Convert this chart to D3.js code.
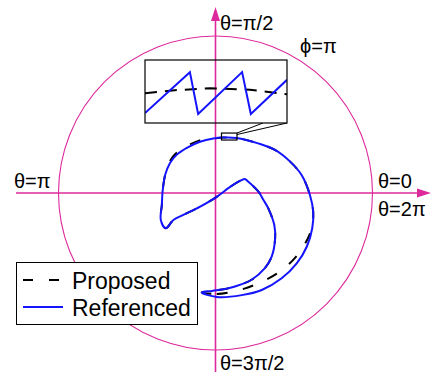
<!DOCTYPE html>
<html>
<head>
<meta charset="utf-8">
<script src="https://cdn.jsdelivr.net/npm/d3@7"></script>
<style>
  html, body { margin: 0; padding: 0; background: #fff; }
  svg { display: block; }
  text { font-family: "Liberation Sans", Arial, Helvetica, sans-serif; fill: #000; }
</style>
</head>
<body>
<svg id="chart" width="432" height="377"></svg>
<script>
// Polar trajectory: angle theta (degrees, counter-clockwise from θ=0) and radius phi (rad)
const theta = [262.1, 270.7, 284.4, 295.5, 307.8, 319.1, 329.5, 340.0, 349.2, 358.8,
               11.8, 22.8, 35.9, 49.3, 69.0, 82.0, 92.3, 106.8, 122.4, 135.6,
               146.6, 160.4, 178.9, 192.6, 206.2, 215.3, 212.6, 214.3, 221.5, 288.0,
               22.5, 26.4, 25.4, 21.1, 1.7, 351.7, 343.8, 331.4, 322.7, 311.4,
               303.3, 292.6, 281.8, 275.7, 268.0];
const phiReferenced = [2.01, 2.08, 2.11, 2.15, 2.16, 2.15, 2.12, 2.06, 1.99, 1.89,
               1.76, 1.62, 1.47, 1.31, 1.18, 1.12, 1.09, 1.07, 1.07, 1.09,
               1.09, 1.07, 1.06, 1.10, 1.22, 1.22, 1.00, 0.78, 0.41, 0.08,
               0.31, 0.58, 0.65, 0.68, 0.86, 0.97, 1.10, 1.34, 1.50, 1.70,
               1.80, 1.88, 1.91, 1.93, 1.96];
const phiProposed = [2.01, 2.02, 2.00, 2.00, 2.03, 2.05, 2.06, 2.05, 1.99, 1.89,
               1.76, 1.62, 1.47, 1.31, 1.18, 1.12, 1.09, 1.10, 1.10, 1.12,
               1.11, 1.07, 1.06, 1.10, 1.22, 1.22, 1.00, 0.78, 0.41, 0.08,
               0.31, 0.58, 0.65, 0.68, 0.86, 0.97, 1.10, 1.34, 1.50, 1.70,
               1.80, 1.88, 1.91, 1.93, 1.96];

// Magnified window (Cartesian, same units as phi) and its contents
const zoomX = [0.12, 0.43];
const zoomY = [1.06, 1.20];
const insetRefX = [0.120, 0.218, 0.236, 0.332, 0.351, 0.430];
const insetRefY = [1.082, 1.173, 1.080, 1.173, 1.080, 1.156];
const insetPropX = [0.120, 0.185, 0.262, 0.349, 0.430];
const insetPropY = [1.126, 1.133, 1.137, 1.134, 1.124];

// Reference circle and direction labels
const circlePhi = Math.PI;
const labels = [
  {text: "θ=π/2",  x: 220, y: 30},
  {text: "ϕ=π",    x: 300, y: 53},
  {text: "θ=π",    x: 14,  y: 188},
  {text: "θ=0",    x: 378, y: 188},
  {text: "θ=2π",   x: 378, y: 216},
  {text: "θ=3π/2", x: 220, y: 370}
];
const seriesNames = ["Proposed", "Referenced"];

const svg = d3.select("#chart");
const cx = 215.5, cy = 193, R = 157;
const pink = "#dc2a9c", blue = "#1414ff";

const r = d3.scaleLinear().domain([0, circlePhi]).range([0, R]);
const xs = d3.scaleLinear().domain([-circlePhi, circlePhi]).range([cx - R, cx + R]);
const ys = d3.scaleLinear().domain([-circlePhi, circlePhi]).range([cy + R, cy - R]);

// Circle φ = π
svg.append("circle")
  .attr("cx", xs(0)).attr("cy", ys(0)).attr("r", r(circlePhi))
  .attr("fill", "none").attr("stroke", pink).attr("stroke-width", 1.1);

// Axes with arrowheads
svg.append("line").attr("x1", 16).attr("y1", cy).attr("x2", 419).attr("y2", cy)
  .attr("stroke", pink).attr("stroke-width", 1.6);
svg.append("line").attr("x1", cx).attr("y1", 372).attr("x2", cx).attr("y2", 19)
  .attr("stroke", pink).attr("stroke-width", 1.6);
svg.append("path").attr("d", `M431,${cy} L417,${cy - 4.5} L417,${cy + 4.5} Z`).attr("fill", pink);
svg.append("path").attr("d", `M${cx},7 L${cx - 4.5},21 L${cx + 4.5},21 Z`).attr("fill", pink);

// Labels
svg.selectAll("text.lab").data(labels).join("text")
  .attr("class", "lab")
  .attr("x", d => d.x).attr("y", d => d.y)
  .attr("font-size", 20)
  .text(d => d.text);

// Trajectories
const radial = d3.lineRadial()
  .angle(d => Math.PI / 2 - d[0] * Math.PI / 180)
  .radius(d => r(d[1]))
  .curve(d3.curveCatmullRomClosed.alpha(0.5));

const g = svg.append("g").attr("transform", `translate(${xs(0)},${ys(0)})`);
g.append("path")
  .attr("d", radial(theta.map((t, i) => [t, phiProposed[i]])))
  .attr("fill", "none").attr("stroke", "#000").attr("stroke-width", 2)
  .attr("stroke-dasharray", "11,15.5");
g.append("path")
  .attr("d", radial(theta.map((t, i) => [t, phiReferenced[i]])))
  .attr("fill", "none").attr("stroke", blue).attr("stroke-width", 2);

// Zoom window marker
const zx0 = xs(zoomX[0]), zx1 = xs(zoomX[1]), zy0 = ys(zoomY[1]), zy1 = ys(zoomY[0]);
svg.append("rect")
  .attr("x", zx0).attr("y", zy0).attr("width", zx1 - zx0).attr("height", zy1 - zy0)
  .attr("fill", "none").attr("stroke", "#000").attr("stroke-width", 1.2);

// Inset panel
const ix0 = 145, ix1 = 287, iy0 = 60, iy1 = 123;
svg.append("line").attr("x1", zx1).attr("y1", zy0).attr("x2", 263).attr("y2", iy1)
  .attr("stroke", "#000").attr("stroke-width", 1);
svg.append("line").attr("x1", zx1).attr("y1", zy0 + 1.5).attr("x2", ix1).attr("y2", iy1)
  .attr("stroke", "#000").attr("stroke-width", 1);

const ixs = d3.scaleLinear().domain(zoomX).range([ix0, ix1]);
const iys = d3.scaleLinear().domain(zoomY).range([iy1, iy0]);
svg.append("rect").attr("x", ix0).attr("y", iy0).attr("width", ix1 - ix0).attr("height", iy1 - iy0)
  .attr("fill", "#fff").attr("stroke", "none");
svg.append("defs").append("clipPath").attr("id", "insetClip")
  .append("rect").attr("x", ix0).attr("y", iy0).attr("width", ix1 - ix0).attr("height", iy1 - iy0);
const ig = svg.append("g").attr("clip-path", "url(#insetClip)");
// vertical axis continues through the inset
ig.append("line").attr("x1", cx).attr("x2", cx).attr("y1", iy0).attr("y2", iy1)
  .attr("stroke", pink).attr("stroke-width", 1.6);
const lineXY = d3.line().x(d => ixs(d[0])).y(d => iys(d[1]));
ig.append("path")
  .attr("d", lineXY(insetPropX.map((x, i) => [x, insetPropY[i]])))
  .attr("fill", "none").attr("stroke", "#000").attr("stroke-width", 2)
  .attr("stroke-dasharray", "12,8");
ig.append("path")
  .attr("d", lineXY(insetRefX.map((x, i) => [x, insetRefY[i]])))
  .attr("fill", "none").attr("stroke", blue).attr("stroke-width", 2);
svg.append("rect").attr("x", ix0).attr("y", iy0).attr("width", ix1 - ix0).attr("height", iy1 - iy0)
  .attr("fill", "none").attr("stroke", "#000").attr("stroke-width", 1.2);

// Legend
const lg = svg.append("g");
lg.append("rect").attr("x", 16.5).attr("y", 262.5).attr("width", 181).attr("height", 62)
  .attr("fill", "#fff").attr("stroke", "#000").attr("stroke-width", 1);
const legendRows = [
  {name: seriesNames[0], y: 280, stroke: "#000", dash: "10,16"},
  {name: seriesNames[1], y: 307, stroke: blue, dash: null}
];
legendRows.forEach(d => {
  lg.append("line").attr("x1", 23).attr("x2", 63).attr("y1", d.y).attr("y2", d.y)
    .attr("stroke", d.stroke).attr("stroke-width", 2)
    .attr("stroke-dasharray", d.dash);
  lg.append("text").attr("x", 72).attr("y", d.y + 8.5).attr("font-size", 23).text(d.name);
});
</script>
</body>
</html>
